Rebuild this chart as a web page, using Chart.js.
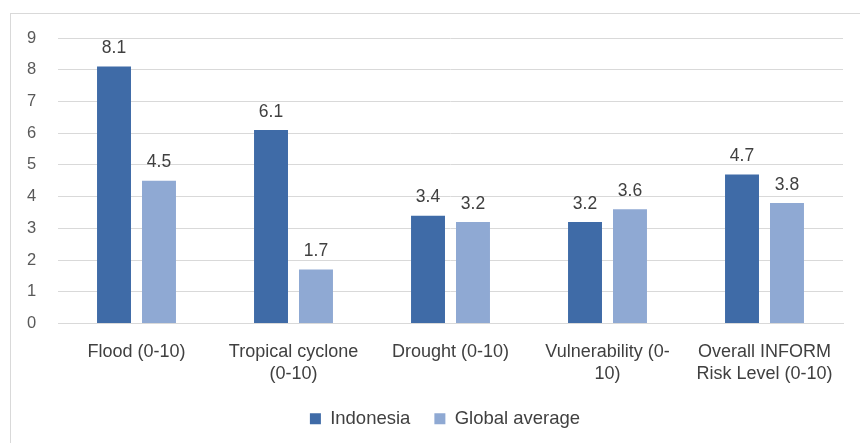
<!DOCTYPE html>
<html>
<head>
<meta charset="utf-8">
<script src="https://cdn.jsdelivr.net/npm/chart.js@4"></script>
<style>
  html, body { margin: 0; padding: 0; background: #fff; }
  #box {
    position: absolute; left: 10px; top: 13px; width: 849px; height: 429px;
    border-top: 1px solid #d9d9d9; border-left: 1px solid #d9d9d9;
  }
</style>
</head>
<body>
<div id="box"><canvas id="myChart" width="849" height="429"></canvas></div>
<script>
const categories = [
    'Flood (0-10)',
    ['Tropical cyclone', '(0-10)'],
    'Drought (0-10)',
    ['Vulnerability (0-', '10)'],
    ['Overall INFORM', 'Risk Level (0-10)']
];
const indonesia = [8.1, 6.1, 3.4, 3.2, 4.7];
const globalAverage = [4.5, 1.7, 3.2, 3.6, 3.8];
const yTicks = [0, 1, 2, 3, 4, 5, 6, 7, 8, 9];

Chart.defaults.font.family = "'Liberation Sans', Arial, sans-serif";
Chart.defaults.color = '#595959';

// value labels above each bar
const barLabels = {
    id: 'barLabels',
    afterDatasetsDraw(chart) {
        const ctx = chart.ctx;
        ctx.save();
        ctx.font = "17.5px 'Liberation Sans', Arial, sans-serif";
        ctx.fillStyle = '#404040';
        ctx.textAlign = 'center';
        ctx.textBaseline = 'bottom';
        chart.data.datasets.forEach((ds, i) => {
            chart.getDatasetMeta(i).data.forEach((bar, j) => {
                ctx.fillText(ds.data[j].toFixed(1), bar.x, bar.y - 9.5);
            });
        });
        ctx.restore();
    }
};

const ctx = document.getElementById('myChart');
const myChart = new Chart(ctx, {
    type: 'bar',
    data: {
        labels: categories,
        datasets: [{
            label: 'Indonesia',
            data: indonesia,
            backgroundColor: '#3f6ba7'
        }, {
            label: 'Global average',
            data: globalAverage,
            backgroundColor: '#8fa9d3'
        }]
    },
    options: {
        responsive: false,
        animation: false,
        categoryPercentage: 0.573,
        barPercentage: 0.755,
        layout: { padding: { top: 24, right: 17, bottom: 5, left: 36 } },
        plugins: {
            legend: {
                position: 'bottom',
                labels: {
                    boxWidth: 11, boxHeight: 11, padding: 24,
                    color: '#404040',
                    font: { size: 18.5 }
                }
            },
            tooltip: { enabled: false }
        },
        scales: {
            x: {
                grid: { display: false },
                border: { display: true, color: '#d9d9d9' },
                ticks: { color: '#404040', font: { size: 18, lineHeight: 1.22 }, padding: 10, maxRotation: 0, autoSkip: false },
                afterFit(scale) { scale.height = 62; }
            },
            y: {
                min: 0, max: 9,
                afterBuildTicks(scale) { scale.ticks = yTicks.map(v => ({ value: v })); },
                grid: { color: '#d9d9d9', drawTicks: false },
                border: { display: false },
                // mirrored with negative padding so the labels sit left of the plot without being clipped
                ticks: { color: '#595959', font: { size: 16.5 }, mirror: true, crossAlign: 'near', padding: -31 },
                afterFit(scale) { scale.width = 11; }
            }
        }
    },
    plugins: [barLabels]
});
</script>
</body>
</html>
